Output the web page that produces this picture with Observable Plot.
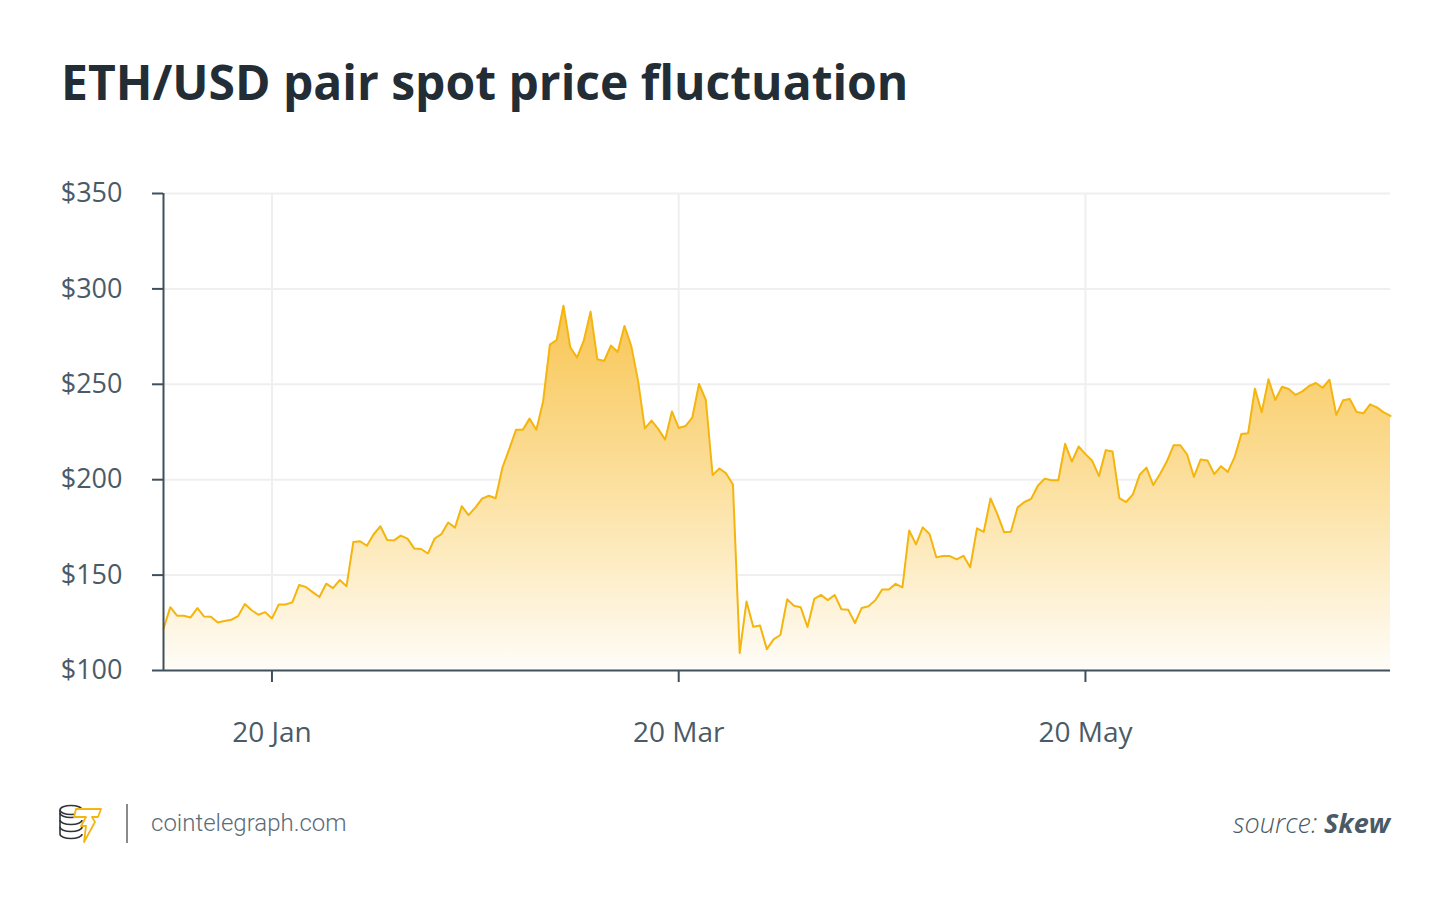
<!DOCTYPE html>
<html>
<head>
<meta charset="utf-8">
<script src="https://cdn.jsdelivr.net/npm/d3@7"></script>
<script src="https://cdn.jsdelivr.net/npm/@observablehq/plot@0.6"></script>
<style>
  html, body { margin: 0; padding: 0; background: #ffffff; }
  body { width: 1450px; height: 904px; position: relative; overflow: hidden; font-family: "Open Sans", sans-serif; }
  #chart { position: absolute; left: 0; top: 0; }
  #chart svg { display: block; }
  #overlay { position: absolute; left: 0; top: 0; pointer-events: none; }
</style>
</head>
<body>
<div id="chart"></div>
<svg id="overlay" width="1450" height="904"></svg>
<script>
// ---- data (ETH/USD daily close) ----
const prices = [
  121.9, 133.2, 128.7, 128.7, 127.8, 132.7, 128.3, 128.2, 125.2, 125.9,
  126.6, 128.5, 134.8, 131.6, 129.2, 130.6, 127.3, 134.6, 134.6, 135.7,
  144.8, 143.8, 141.1, 138.5, 145.5, 143.2, 147.4, 144.2, 167.3, 167.7,
  165.4, 171.4, 175.6, 168.4, 168.2, 170.7, 169.1, 163.9, 163.7, 161.3,
  169.2, 171.5, 177.6, 174.9, 186.1, 181.4, 185.4, 190.1, 191.6, 190.3,
  206.4, 216.0, 226.2, 226.2, 232.0, 226.2, 241.0, 270.8, 273.2, 291.2,
  269.4, 264.0, 272.9, 288.1, 263.1, 262.2, 270.3, 266.9, 280.6, 270.1,
  251.9, 226.9, 231.0, 226.5, 221.0, 235.8, 227.1, 228.1, 232.5, 250.2,
  241.8, 202.4, 205.9, 203.3, 197.5, 109.2, 136.2, 122.9, 123.6, 111.2,
  116.3, 118.6, 137.3, 133.9, 133.1, 122.8, 137.5, 139.6, 136.9, 139.6,
  132.1, 131.9, 124.9, 132.8, 133.7, 136.8, 142.4, 142.4, 145.4, 143.6,
  173.4, 166.1, 175.0, 171.5, 159.4, 160.0, 160.0, 158.2, 160.1, 154.1,
  174.5, 172.7, 190.2, 182.0, 172.5, 172.7, 185.5, 188.3, 190.0, 197.0,
  200.5, 199.7, 199.7, 218.8, 209.5, 217.4, 213.4, 209.9, 201.9, 215.5,
  214.8, 190.4, 188.3, 192.3, 202.6, 206.3, 197.2, 203.0, 209.5, 218.0,
  218.0, 213.2, 201.5, 210.6, 210.1, 202.9, 207.1, 204.1, 211.8, 223.9,
  224.4, 247.7, 235.3, 252.6, 241.8, 248.7, 247.5, 244.4, 246.3, 249.1,
  250.7, 248.2, 252.4, 233.9, 241.6, 242.3, 235.5, 234.8, 239.5, 237.9,
  235.3, 233.4
];
const xTickIndex = [16, 76, 136];
const xTickLabels = ["20 Jan", "20 Mar", "20 May"];
const yTicks = [100, 150, 200, 250, 300, 350];
const yDomain = [100, 350];

const titleText = "ETH/USD pair spot price fluctuation";
const siteText = "cointelegraph.com";
const sourceLabel = "source: ";
const sourceName = "Skew";

// ---- styles ----
const axisColor = "#3f505c";
const textColor = "#4a5b67";
const gridColor = "#efefef";
const lineColor = "#f5b50f";

const plot = Plot.plot({
  width: 1450,
  height: 780,
  marginLeft: 163,
  marginRight: 60,
  marginTop: 193,
  marginBottom: 110,
  style: { fontFamily: "'Open Sans', sans-serif", fontSize: "27px", color: textColor, background: "transparent", overflow: "visible" },
  x: { domain: [0, prices.length - 1], axis: null },
  y: { domain: yDomain, axis: null },
  marks: [
    Plot.gridY(yTicks.filter(d => d > yDomain[0]), { stroke: gridColor, strokeOpacity: 1, strokeWidth: 2 }),
    Plot.gridX(xTickIndex, { stroke: gridColor, strokeOpacity: 1, strokeWidth: 2 }),
    Plot.areaY(prices, { x: (d, i) => i, y1: () => yDomain[0], y2: d => d, fill: "url(#ethFill)", curve: "linear" }),
    Plot.lineY(prices, { x: (d, i) => i, y: d => d, stroke: lineColor, strokeWidth: 2, curve: "linear" }),
    Plot.ruleX([0], { stroke: axisColor, strokeWidth: 2 }),
    Plot.ruleY([yDomain[0]], { stroke: axisColor, strokeWidth: 2 }),
    Plot.axisY(yTicks, {
      anchor: "left", tickSize: 11, tickPadding: 30, stroke: axisColor, strokeWidth: 2, strokeOpacity: 1,
      fill: textColor, fontSize: 27, tickFormat: d => "$" + d
    }),
    Plot.axisX(xTickIndex, {
      anchor: "bottom", tickSize: 12, tickPadding: 40, stroke: axisColor, strokeWidth: 2, strokeOpacity: 1,
      fill: textColor, fontSize: 28, tickFormat: d => xTickLabels[xTickIndex.indexOf(d)]
    })
  ]
});

// gradient fill for the area
d3.select(plot).insert("defs", ":first-child").html(`
  <linearGradient id="ethFill" x1="0" y1="0" x2="0" y2="1">
    <stop offset="0" stop-color="#f8c552"/>
    <stop offset="0.55" stop-color="#fce3a8"/>
    <stop offset="1" stop-color="#fffdf8"/>
  </linearGradient>`);

document.getElementById("chart").appendChild(plot);

// ---- title & footer ----
const ov = d3.select("#overlay");
ov.append("text")
  .attr("x", 61).attr("y", 100)
  .attr("font-family", "'Open Sans', sans-serif")
  .attr("font-size", 48).attr("font-weight", 700)
  .attr("fill", "#232d36")
  .text(titleText);

// logo: stacked coins + lightning T
const logo = ov.append("g").attr("fill", "none");
[0, 1, 2, 3].forEach(k => {
  logo.append("path")
    .attr("d", `M60,${813 + k * 7} a11,4.5 0 0,0 22,0`)
    .attr("stroke", "#2f3338").attr("stroke-width", 1.6);
});
logo.append("ellipse").attr("cx", 71).attr("cy", 810).attr("rx", 11).attr("ry", 4.5)
  .attr("stroke", "#2f3338").attr("stroke-width", 1.6).attr("fill", "#fff");
logo.append("line").attr("x1", 60).attr("y1", 810).attr("x2", 60).attr("y2", 834).attr("stroke", "#2f3338").attr("stroke-width", 1.6);
logo.append("path")
  .attr("d", "M76,809 L101,809 L98,817 L92,817 L95,822 L84,842 L86,826 L81,826 L86,817 L74,817 Z")
  .attr("stroke", "#f5b50f").attr("stroke-width", 1.8).attr("fill", "#fff").attr("stroke-linejoin", "round");

ov.append("line").attr("x1", 127).attr("y1", 804).attr("x2", 127).attr("y2", 843)
  .attr("stroke", "#8a8a8a").attr("stroke-width", 2);

ov.append("text")
  .attr("x", 151).attr("y", 831)
  .attr("font-family", "Roboto, sans-serif")
  .attr("font-size", 24).attr("font-weight", 300)
  .attr("fill", "#5b6b77")
  .text(siteText);

const src = ov.append("text")
  .attr("x", 1390).attr("y", 833)
  .attr("text-anchor", "end")
  .attr("font-family", "'Open Sans', sans-serif")
  .attr("font-size", 27).attr("font-style", "italic")
  .attr("fill", "#4a5b67");
src.append("tspan").attr("font-weight", 300).text(sourceLabel);
src.append("tspan").attr("font-weight", 700).text(sourceName);
</script>
</body>
</html>
